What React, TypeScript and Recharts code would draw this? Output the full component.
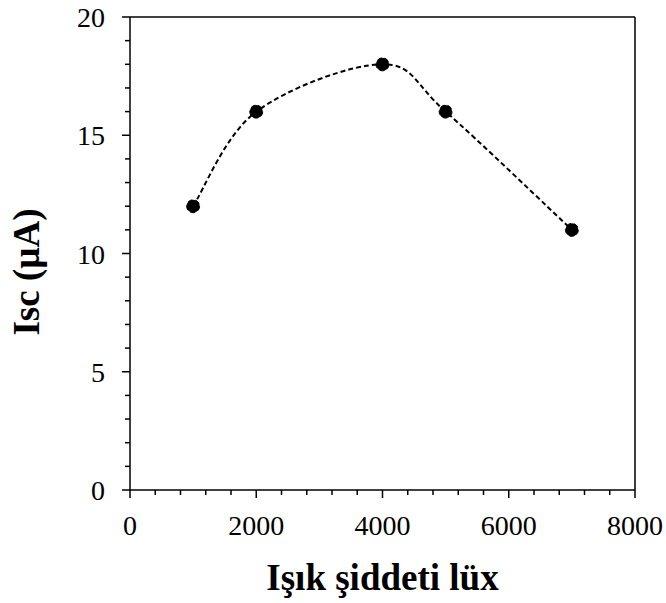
import { LineChart, Line, XAxis, YAxis, ReferenceLine } from 'recharts';

// Isc vs light intensity (lux)
const luxValues = [1000, 2000, 4000, 5000, 7000];
const iscValues = [12, 16, 18, 16, 11];

const xTicks = [0, 400, 800, 1200, 1600, 2000, 2400, 2800, 3200, 3600, 4000, 4400, 4800, 5200, 5600, 6000, 6400, 6800, 7200, 7600, 8000];
const xMajor = [0, 2000, 4000, 6000, 8000];
const yTicks = [0, 1, 2, 3, 4, 5, 6, 7, 8, 9, 10, 11, 12, 13, 14, 15, 16, 17, 18, 19, 20];
const yMajor = [0, 5, 10, 15, 20];

const xTitle = 'Işık şiddeti lüx';
const yTitle = 'Isc (µA)';

const FONT = '"Liberation Serif", "Times New Roman", serif';

const data = luxValues.map((lux, i) => ({ lux, isc: iscValues[i] }));

// Excel-style smoothed line (cardinal bezier, tangent = (next - prev) / 6)
function excelSmooth(context: any) {
  let pts: [number, number][] = [];
  return {
    areaStart() {},
    areaEnd() {},
    lineStart() {
      pts = [];
    },
    point(x: number, y: number) {
      pts.push([+x, +y]);
    },
    lineEnd() {
      if (!pts.length) return;
      context.moveTo(pts[0][0], pts[0][1]);
      for (let i = 0; i < pts.length - 1; i++) {
        const p0 = pts[Math.max(i - 1, 0)];
        const p1 = pts[i];
        const p2 = pts[i + 1];
        const p3 = pts[Math.min(i + 2, pts.length - 1)];
        context.bezierCurveTo(
          p1[0] + (p2[0] - p0[0]) / 6,
          p1[1] + (p2[1] - p0[1]) / 6,
          p2[0] - (p3[0] - p1[0]) / 6,
          p2[1] - (p3[1] - p1[1]) / 6,
          p2[0],
          p2[1],
        );
      }
    },
  };
}

function XTick(props: any) {
  const { x, y, payload } = props;
  const major = xMajor.includes(payload.value);
  return (
    <g>
      <line x1={x} y1={y} x2={x} y2={y + (major ? 8 : 5)} stroke="#000" strokeWidth={1.5} />
      {major && (
        <text x={x} y={y + 45} textAnchor="middle" fontFamily={FONT} fontSize={28} fill="#000">
          {payload.value}
        </text>
      )}
    </g>
  );
}

function YTick(props: any) {
  const { x, y, payload } = props;
  const major = yMajor.includes(payload.value);
  return (
    <g>
      <line x1={x - (major ? 8 : 5)} y1={y} x2={x} y2={y} stroke="#000" strokeWidth={1.5} />
      {major && (
        <text x={x - 25} y={y + 10} textAnchor="end" fontFamily={FONT} fontSize={28} fill="#000">
          {payload.value}
        </text>
      )}
    </g>
  );
}

export default function App() {
  return (
    <div style={{ position: 'absolute', left: 0, top: 0, width: 666, height: 603, background: '#fff' }}>
      <LineChart width={666} height={603} data={data} margin={{ top: 17, right: 31, bottom: 112, left: 129 }}>
        <XAxis
          dataKey="lux"
          type="number"
          domain={[0, 8000]}
          ticks={xTicks}
          interval={0}
          height={1}
          tickSize={0}
          tickMargin={0}
          tickLine={false}
          tick={<XTick />}
          axisLine={{ stroke: '#000', strokeWidth: 1.5 }}
          label={{
            content: (p: any) => (
              <text
                x={p.viewBox.x + p.viewBox.width / 2}
                y={590}
                textAnchor="middle"
                fontFamily={FONT}
                fontWeight="bold"
                fontSize={37}
                fill="#000"
              >
                {xTitle}
              </text>
            ),
          }}
        />
        <YAxis
          type="number"
          domain={[0, 20]}
          ticks={yTicks}
          interval={0}
          width={1}
          tickSize={0}
          tickMargin={0}
          tickLine={false}
          tick={<YTick />}
          axisLine={{ stroke: '#000', strokeWidth: 1.5 }}
          label={{
            content: () => (
              <text
                x={39}
                y={272}
                transform="rotate(-90 39 272)"
                textAnchor="middle"
                fontFamily={FONT}
                fontWeight="bold"
                fontSize={37}
                fill="#000"
              >
                {yTitle}
              </text>
            ),
          }}
        />
        <ReferenceLine y={20} stroke="#000" strokeWidth={1.5} />
        <ReferenceLine x={8000} stroke="#000" strokeWidth={1.5} />
        <Line
          type={excelSmooth as any}
          dataKey="isc"
          stroke="#000"
          strokeWidth={2}
          strokeDasharray="5 3"
          dot={{ r: 6.5, fill: '#000', stroke: '#000', strokeWidth: 1 }}
          isAnimationActive={false}
        />
      </LineChart>
    </div>
  );
}
